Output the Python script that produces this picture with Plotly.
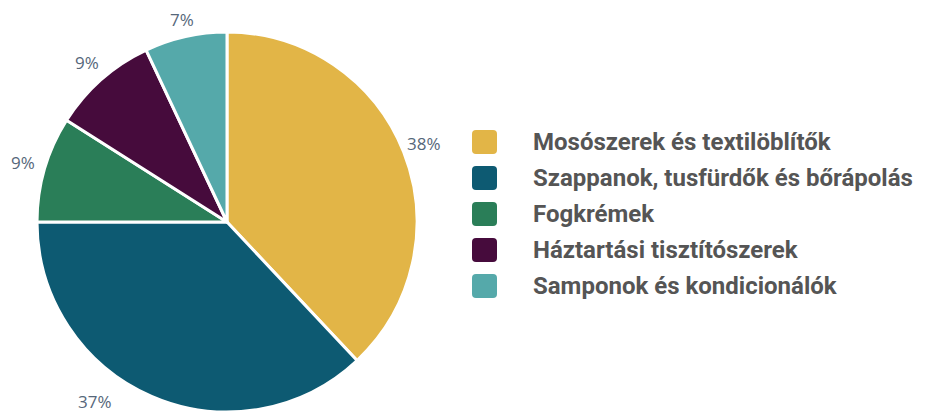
import math
import plotly.graph_objects as go

categories = ["Mosószerek és textilöblítők", "Szappanok, tusfürdők és bőrápolás",
              "Fogkrémek", "Háztartási tisztítószerek", "Samponok és kondicionálók"]
values = [38, 37, 9, 9, 7]
pct_labels = ["38%", "37%", "9%", "9%", "7%"]
colors = ["#E2B547", "#0D5A72", "#2A7E58", "#460B3C", "#55A9AA"]

WIN_W, WIN_H, OFF = 944, 412, 8      # page body has an 8px margin
W, H = WIN_W - OFF, WIN_H - OFF
CX, CY, R = 227, 222, 190            # pie centre / radius in window pixels


def px(x):
    return (x - OFF) / W


def py(y):
    return (WIN_H - y) / H


fig = go.Figure()
fig.add_trace(go.Pie(
    labels=categories, values=values, sort=False, direction="clockwise", rotation=0,
    marker=dict(colors=colors, line=dict(color="white", width=3)),
    textinfo="none",
    domain=dict(x=[px(CX - R), px(CX + R)], y=[py(CY + R), py(CY - R)]),
    showlegend=False, hoverinfo="label+percent",
))

# percentage labels placed outside each slice's mid-angle
total = sum(values)
cum = 0
for i, (v, lab) in enumerate(zip(values, pct_labels)):
    mid = (cum + v / 2) / total * 360
    cum += v
    rl = R + 22
    if i == 1:            # bottom label nudged so it stays inside the frame
        mid += 12.8
        rl = R + 33
    if i == 4:
        rl = R + 18
    a = math.radians(mid)
    fig.add_annotation(x=CX + rl * math.sin(a), y=CY - rl * math.cos(a),
                       xref="x", yref="y", text=lab, showarrow=False,
                       font=dict(family="Open Sans", size=17, color="#56677A"))

# custom legend
x0, x1 = 472, 497
for i, (cat, col) in enumerate(zip(categories, colors)):
    yc = 142 + 36 * i
    y0, y1 = yc - 12, yc + 12
    r = 4
    path = (f"M{x0 + r},{y0} L{x1 - r},{y0} Q{x1},{y0} {x1},{y0 + r} L{x1},{y1 - r} "
            f"Q{x1},{y1} {x1 - r},{y1} L{x0 + r},{y1} Q{x0},{y1} {x0},{y1 - r} "
            f"L{x0},{y0 + r} Q{x0},{y0} {x0 + r},{y0} Z")
    fig.add_shape(type="path", path=path, xref="x", yref="y",
                  fillcolor=col, line=dict(width=0))
    fig.add_annotation(x=531, y=yc, xref="x", yref="y", text=f"<b>{cat}</b>",
                       showarrow=False, xanchor="left", yanchor="middle",
                       font=dict(family="Roboto", size=24, color="#555555"))

fig.update_layout(
    width=W, height=H, margin=dict(l=0, r=0, t=0, b=0),
    paper_bgcolor="white", plot_bgcolor="white",
    xaxis=dict(range=[OFF, WIN_W], visible=False, fixedrange=True),
    yaxis=dict(range=[WIN_H, OFF], visible=False, fixedrange=True),
)
fig.write_html("out.html")
